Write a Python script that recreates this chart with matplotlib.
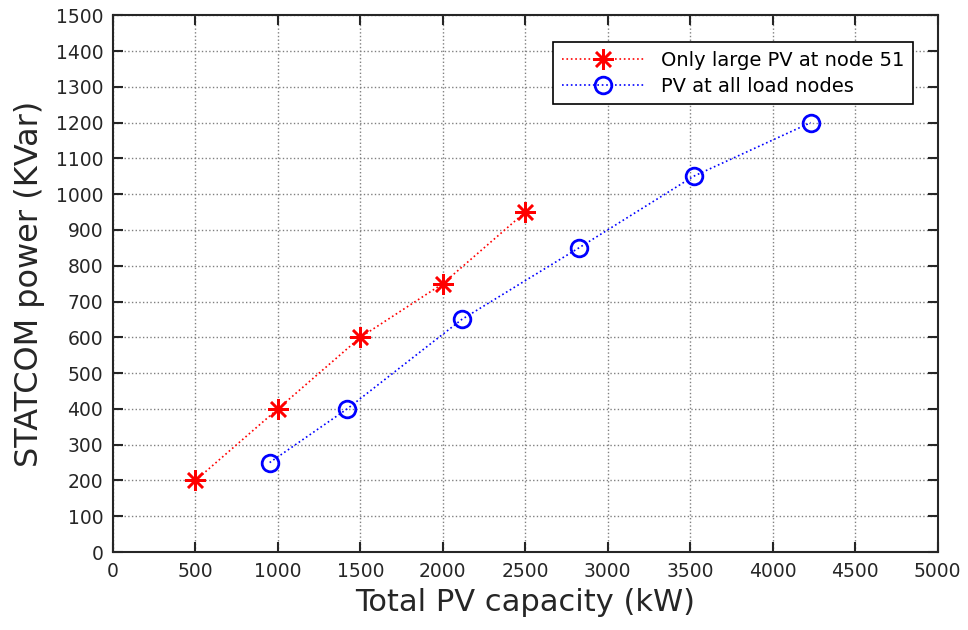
import matplotlib
matplotlib.use("Agg")
import matplotlib.pyplot as plt

plt.rcParams['font.family'] = ['DejaVu Sans']

red_x = [500, 1000, 1500, 2000, 2500]
red_y = [200, 400, 600, 750, 950]
blue_x = [950, 1420, 2115, 2825, 3520, 4230]
blue_y = [250, 400, 650, 850, 1050, 1200]
red_label = "Only large PV at node 51"
blue_label = "PV at all load nodes"
x_ticks = list(range(0, 5001, 500))
y_ticks = list(range(0, 1501, 100))

fig = plt.figure(figsize=(9.68, 6.3), dpi=100)
ax = fig.add_axes([0.1167, 0.1238, 0.852, 0.852])

ax.plot(red_x, red_y, color='red', linestyle=':', linewidth=1.2, marker=(8, 2, 0),
        markersize=15, markeredgewidth=1.8, label=red_label)
ax.plot(blue_x, blue_y, color='blue', linestyle=':', linewidth=1.2, marker='o',
        markersize=12, markerfacecolor='none', markeredgewidth=2, label=blue_label)

ax.set_xlim(0, 5000)
ax.set_ylim(0, 1500)
ax.set_xticks(x_ticks)
ax.set_yticks(y_ticks)
ax.tick_params(direction='in', top=True, right=True, labelsize=13.5, length=7,
               width=1.5, pad=7, colors='#262626')
ax.grid(True, color='gray', linestyle=':', linewidth=1.0)
for s in ax.spines.values():
    s.set_linewidth(1.5)
    s.set_color('#262626')

ax.set_xlabel("Total PV capacity (kW)", fontsize=22, labelpad=5, color='#262626')
ax.set_ylabel("STATCOM power (KVar)", fontsize=23, labelpad=8, color='#262626')

leg = ax.legend(loc='upper right', bbox_to_anchor=(0.970, 0.950), fontsize=14,
                fancybox=False, edgecolor='black', framealpha=1, borderaxespad=0,
                handlelength=4.3, borderpad=0.45, labelspacing=0.35)
leg.get_frame().set_linewidth(1.2)

fig.savefig("out.png", dpi=100)
